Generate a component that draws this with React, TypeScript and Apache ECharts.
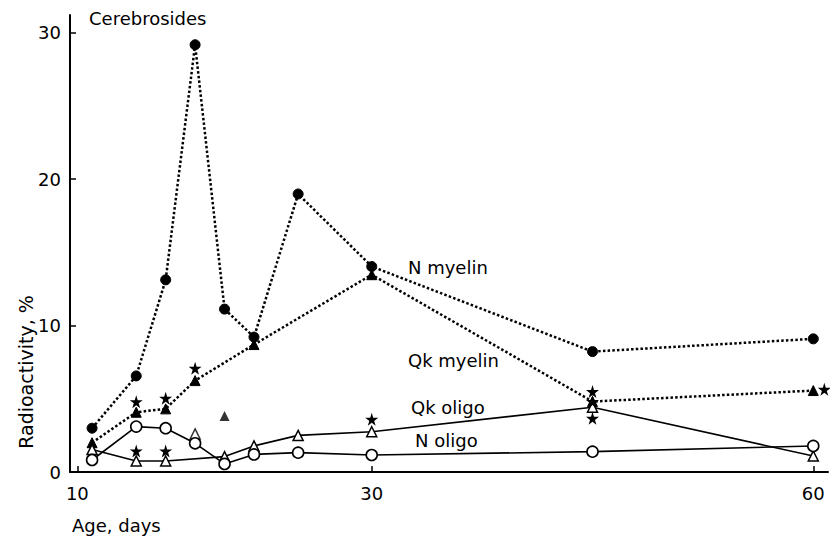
import React, { useEffect, useRef } from "react";
import * as echarts from "echarts";

// Age (days) at which samples were taken
const days = [11, 14, 16, 18, 20, 22, 25, 30, 45, 60];
// Radioactivity, % (null = no point on that curve)
const nMyelin = [2.99, 6.56, 13.12, 29.17, 11.12, 9.21, 18.98, 14.03, 8.22, 9.09];
const qkMyelin = [2.0, 4.08, 4.31, 6.24, null, 8.7, null, 13.47, 4.81, 5.56];
const qkOligo = [1.54, 0.75, 0.75, null, 1.05, 1.78, 2.5, 2.75, 4.42, 1.09];
const nOligo = [0.82, 3.1, 2.99, 1.96, 0.55, 1.2, 1.32, 1.16, 1.39, 1.78];
// isolated (unconnected) points
const qkMyelinExtraDays = [20];
const qkMyelinExtraValues = [3.83];
const qkOligoExtraDays = [18];
const qkOligoExtraValues = [2.6];
// star markers
const starDays = [14, 14, 16, 16, 18, 30, 45, 45, 45, 60.75];
const starValues = [4.8, 1.44, 5.04, 1.44, 7.09, 3.6, 5.49, 4.81, 3.67, 5.65];
// axis ticks
const xTicks = [10, 30, 60];
const yTicks = [0, 10, 20, 30];
const curveLabels = ["N myelin", "Qk myelin", "Qk oligo", "N oligo"];

const STAR =
  "path://M50,0 L61,35 L98,35 L68,57 L79,91 L50,70 L21,91 L32,57 L2,35 L39,35 Z";
const FONT = "DejaVu Sans";
const INK = "#000";

function pairs(xs: number[], ys: (number | null)[]) {
  return xs.map((x, i) => [x, ys[i]]).filter((p) => p[1] !== null);
}

export default function App() {
  const ref = useRef<HTMLDivElement>(null);
  useEffect(() => {
    if (!ref.current) return;
    const chart = echarts.init(ref.current, null, { renderer: "svg" });
    const dotted = { color: INK, width: 2.5, type: [2.5, 2.2] as any };
    const solid = { color: INK, width: 1.6, type: "solid" as any };
    chart.setOption({
      animation: false,
      backgroundColor: "#fff",
      grid: { left: 70, top: 15, right: 2, bottom: 65, containLabel: false },
      xAxis: {
        type: "value",
        min: 9.5,
        max: 61,
        axisLine: { lineStyle: { color: INK, width: 2 } },
        axisTick: { inside: true, length: 6, customValues: xTicks, lineStyle: { color: INK, width: 1.5 } },
        axisLabel: { customValues: xTicks, color: INK, fontFamily: FONT, fontSize: 18, margin: 12 },
        splitLine: { show: false },
      },
      yAxis: {
        type: "value",
        min: 0,
        max: 31.2,
        axisLine: { show: true, lineStyle: { color: INK, width: 2 } },
        axisTick: { show: true, inside: true, length: 6, customValues: yTicks, lineStyle: { color: INK, width: 1.5 } },
        axisLabel: { customValues: yTicks, color: INK, fontFamily: FONT, fontSize: 18, margin: 9 },
        splitLine: { show: false },
      },
      series: [
        {
          name: "N myelin",
          type: "line",
          data: pairs(days, nMyelin),
          lineStyle: dotted,
          symbol: "circle",
          symbolSize: 10,
          itemStyle: { color: INK, borderColor: INK },
          z: 3,
        },
        {
          name: "Qk myelin",
          type: "line",
          data: pairs(days, qkMyelin),
          lineStyle: dotted,
          symbol: "triangle",
          symbolSize: 10,
          itemStyle: { color: INK, borderColor: INK },
          z: 3,
        },
        {
          name: "Qk myelin extra",
          type: "scatter",
          data: pairs(qkMyelinExtraDays, qkMyelinExtraValues),
          symbol: "triangle",
          symbolSize: 10,
          itemStyle: { color: INK },
          z: 3,
        },
        {
          name: "Qk oligo",
          type: "line",
          data: pairs(days, qkOligo),
          lineStyle: solid,
          symbol: "triangle",
          symbolSize: 10,
          itemStyle: { color: "#fff", borderColor: INK, borderWidth: 1.5 },
          z: 4,
        },
        {
          name: "Qk oligo extra",
          type: "scatter",
          data: pairs(qkOligoExtraDays, qkOligoExtraValues),
          symbol: "triangle",
          symbolSize: 10,
          itemStyle: { color: "#fff", borderColor: INK, borderWidth: 1.5 },
          z: 4,
        },
        {
          name: "N oligo",
          type: "line",
          data: pairs(days, nOligo),
          lineStyle: solid,
          symbol: "circle",
          symbolSize: 11,
          itemStyle: { color: "#fff", borderColor: INK, borderWidth: 1.6 },
          z: 5,
        },
        {
          name: "stars",
          type: "scatter",
          data: pairs(starDays, starValues),
          symbol: STAR,
          symbolSize: 13,
          itemStyle: { color: INK, opacity: 1 },
          z: 6,
        },
      ],
      graphic: [
        { type: "text", x: 89, y: 18, style: { text: "Cerebrosides", font: `18px '${FONT}'`, fill: INK, verticalAlign: "middle" } },
        { type: "text", x: 408, y: 267, style: { text: curveLabels[0], font: `18px '${FONT}'`, fill: INK, verticalAlign: "middle" } },
        { type: "text", x: 408, y: 360, style: { text: curveLabels[1], font: `18px '${FONT}'`, fill: INK, verticalAlign: "middle" } },
        { type: "text", x: 411, y: 407, style: { text: curveLabels[2], font: `18px '${FONT}'`, fill: INK, verticalAlign: "middle" } },
        { type: "text", x: 415, y: 440, style: { text: curveLabels[3], font: `18px '${FONT}'`, fill: INK, verticalAlign: "middle" } },
        { type: "text", x: 72, y: 525, style: { text: "Age, days", font: `18px '${FONT}'`, fill: INK, verticalAlign: "middle" } },
        {
          type: "text",
          x: 26,
          y: 372,
          rotation: Math.PI / 2,
          style: { text: "Radioactivity, %", font: `19px '${FONT}'`, fill: INK, align: "center", verticalAlign: "middle" },
        },
      ],
    });
    return () => chart.dispose();
  }, []);
  return (
    <div
      ref={ref}
      style={{ position: "fixed", left: 0, top: 0, width: 830, height: 537, background: "#fff" }}
    />
  );
}
